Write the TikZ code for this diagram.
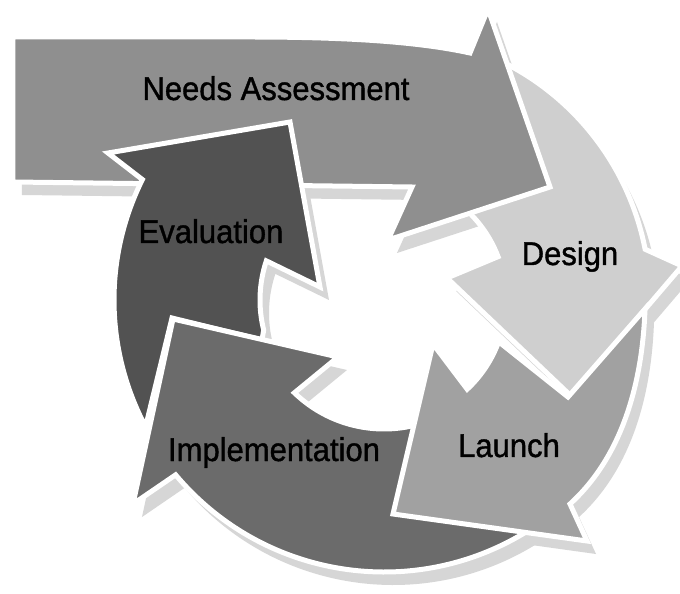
\documentclass[tikz,border=0pt]{standalone}
\usepackage{graphicx}
\usepackage{fontspec}
\setmainfont{Liberation Sans}
\newfontfamily\lblfont[FakeBold=1.2]{Liberation Sans}
\definecolor{cNeeds}{gray}{0.56}
\definecolor{cEval}{gray}{0.32}
\definecolor{cImpl}{gray}{0.42}
\definecolor{cLaunch}{gray}{0.63}
\definecolor{cDesign}{gray}{0.81}
\definecolor{cShadow}{gray}{0.84}
\newcommand{\ystretch}[1]{\scalebox{1}[1.06]{#1}}
\def\pathNeeds{(-371,263) -- (-134,263) .. controls (-34,263) and (36,258) .. (86,247) -- (104,291) -- (166,113) -- (4,60) -- (28,113) -- (-371,118) -- cycle}
\def\pathEval{(153.5:270) -- (-276,147) -- (-94,178) -- (-64,13) -- (161.6:124) arc[start angle=161.6, end angle=194, radius=124] -- (-122,-40) -- (-212,-18) -- (208:270) arc[start angle=208, end angle=153.5, radius=270] -- cycle}
\def\pathImpl{(-211,-19) -- (-46,-57) -- (226:129) arc[start angle=226, end angle=283, radius=129] -- (41,-140) -- (116,-180) -- (302:272) arc[start angle=302, end angle=220, radius=272] -- (-251,-204) -- cycle}
\def\pathLaunch{(9,-214) -- (49,-44) -- (-47:122) arc[start angle=-47, end angle=-20, radius=122] -- (184,-97) -- (261,-9) .. controls (258.5,-81) and (239.2,-155.5) .. (186,-204) -- (203,-241) -- cycle}
\def\pathDesign{(44:122) arc[start angle=44, end angle=20.8, radius=122] -- (63,22) -- (187,-96) -- (298,34) -- (11:266) arc[start angle=11, end angle=62, radius=266] -- (121,220) -- (136,150) -- (86,95) -- cycle}
\begin{document}
\begin{tikzpicture}[x=1pt,y=1pt,
  arrowshape/.style={draw=white, line width=5pt, line join=miter},
  shadowshape/.style={fill=cShadow, draw=none},
  lbl/.style={font=\lblfont\fontsize{31}{31}\selectfont, text=black, inner sep=0pt, anchor=base}]
\useasboundingbox (-384,300) rectangle (296,-294);
\clip (-384,300) rectangle (296,-294);
\fill[white] (-384,300) rectangle (296,-294);
% soft shadows
\begin{scope}[shift={(9,-13)}]
  \fill[shadowshape] \pathDesign;
  \fill[shadowshape] \pathNeeds;
  \fill[shadowshape] \pathEval;
  \fill[shadowshape] \pathImpl;
  \fill[shadowshape] \pathLaunch;
\end{scope}
% arrows
\filldraw[arrowshape, fill=cDesign] \pathDesign;
\filldraw[arrowshape, fill=cNeeds] \pathNeeds;
\filldraw[arrowshape, fill=cEval] \pathEval;
\filldraw[arrowshape, fill=cImpl] \pathImpl;
\filldraw[arrowshape, fill=cLaunch] \pathLaunch;
% labels
\node[lbl] (needs) at (-108,200) {\ystretch{Needs Assessment}};
\node[lbl] (eval) at (-173,57) {\ystretch{Evaluation}};
\node[lbl] (design) at (186,35) {\ystretch{Design}};
\node[lbl] (impl) at (-110,-161) {\ystretch{Implementation}};
\node[lbl] (launch) at (125,-157) {\ystretch{Launch}};
\end{tikzpicture}
\end{document}
